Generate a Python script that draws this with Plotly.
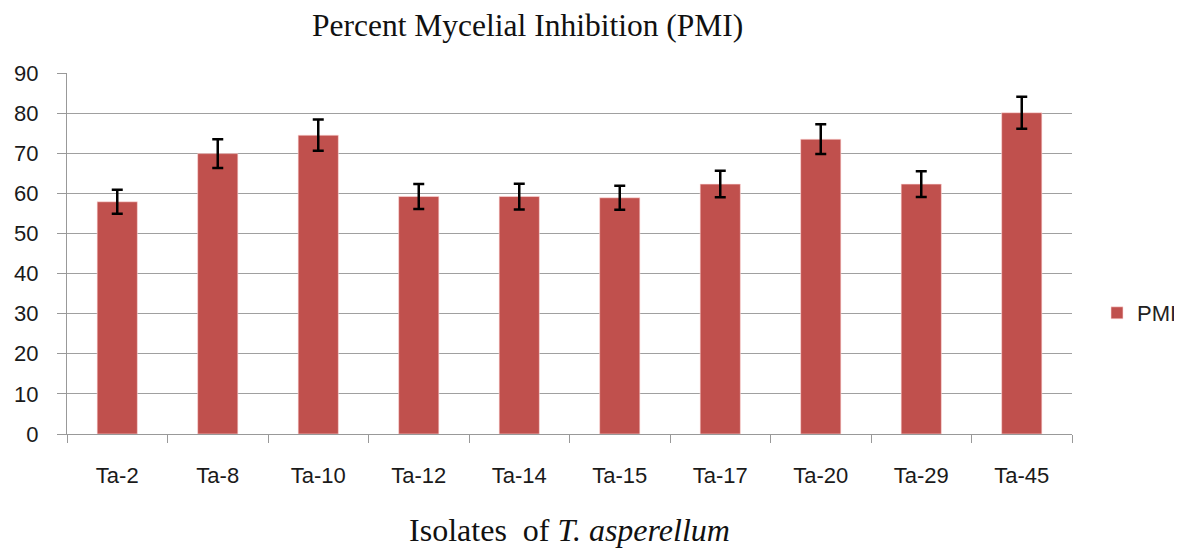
import plotly.graph_objects as go

categories = ["Ta-2", "Ta-8", "Ta-10", "Ta-12", "Ta-14", "Ta-15", "Ta-17", "Ta-20", "Ta-29", "Ta-45"]
pmi_values = [57.9, 69.9, 74.5, 59.2, 59.2, 58.9, 62.3, 73.5, 62.3, 80.1]
pmi_errors = [3.0, 3.6, 3.9, 3.1, 3.2, 3.0, 3.3, 3.7, 3.2, 4.0]
y_ticks = [0, 10, 20, 30, 40, 50, 60, 70, 80, 90]

fig = go.Figure()
fig.add_trace(go.Bar(
    x=categories, y=pmi_values, name="PMI",
    marker=dict(color="#C0504D", line=dict(color="rgba(255,220,220,0.6)", width=1)),
    error_y=dict(type="data", array=pmi_errors, visible=True,
                 color="black", thickness=2.5, width=5.5),
))

# page body has an 8px margin; compensate so the plot lands where the reference has it
OFF = 8
W, H = 1182, 540
ml, mr, mt, mb = 58.5, 118, 65, 114
pw = W - ml - mr
ph = H - mt - mb
fig.update_layout(
    width=W, height=H,
    margin=dict(l=ml, r=mr, t=mt, b=mb, pad=0, autoexpand=False),
    paper_bgcolor="white", plot_bgcolor="white",
    bargap=0.6,
    showlegend=True,
    legend=dict(xref="container", yref="container",
                x=(1097 - OFF) / W, xanchor="left",
                y=1 - (313 - OFF) / H, yanchor="middle",
                font=dict(family="Liberation Sans", size=22, color="#222"),
                bgcolor="rgba(0,0,0,0)", itemwidth=30),
    font=dict(family="Liberation Sans", size=20, color="#222"),
    xaxis=dict(
        automargin=False,
        showgrid=False, showline=True, linecolor="#999", linewidth=1,
        ticks="outside", tickson="boundaries", ticklen=8, tickcolor="#999",
        tickfont=dict(family="Liberation Sans", size=22, color="#1a1a1a"),
        ticklabelstandoff=22,
        title=dict(text="Isolates  of <i>T. asperellum</i>",
                   font=dict(family="Liberation Serif", size=32, color="#111"),
                   standoff=32),
    ),
    yaxis=dict(
        automargin=False,
        range=[0, 90], tickvals=y_ticks,
        showgrid=True, gridcolor="#a0a0a0", gridwidth=1,
        showline=True, linecolor="#999", linewidth=1,
        ticks="outside", ticklen=9, tickcolor="#999",
        tickfont=dict(family="Liberation Sans", size=22, color="#1a1a1a"),
        ticklabelstandoff=14, zeroline=False,
    ),
    annotations=[dict(
        text="Percent Mycelial Inhibition (PMI)", xref="paper", yref="paper",
        x=(527 - OFF - ml) / pw, y=1 + (mt - (26 - OFF)) / ph,
        xanchor="center", yanchor="middle", showarrow=False,
        font=dict(family="Liberation Serif", size=31.5, color="#111"),
    )],
)

fig.write_html("out.html")
